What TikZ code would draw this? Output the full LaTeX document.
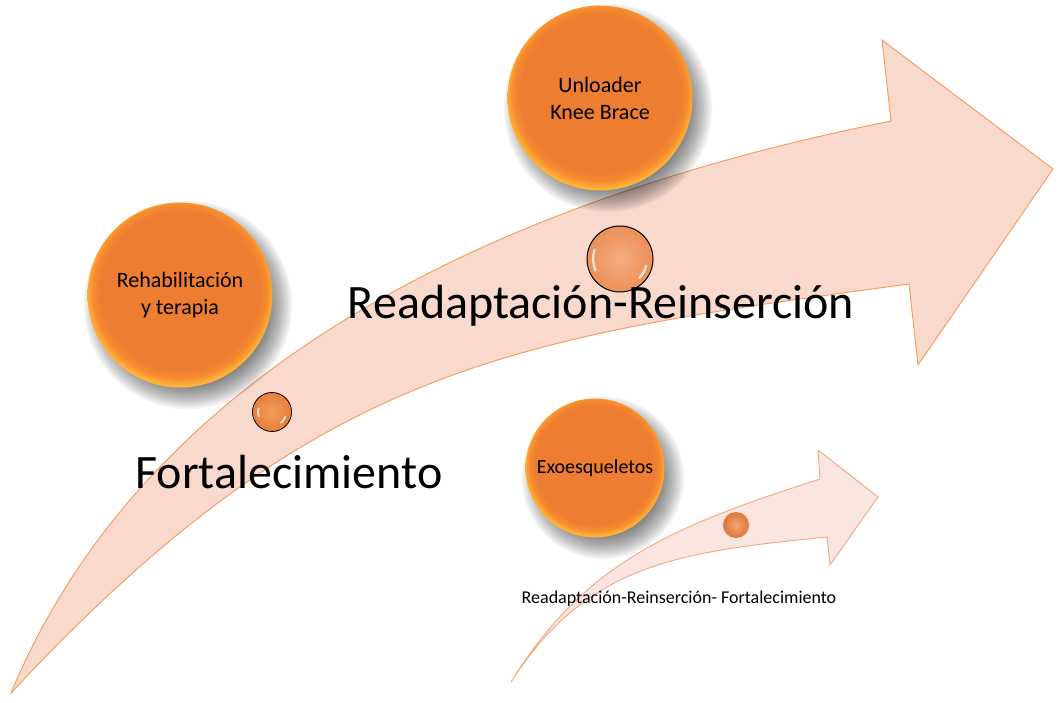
\documentclass[tikz,border=0pt]{standalone}
\usepackage{fontspec}
\setmainfont{Carlito}
\definecolor{arrfill}{HTML}{F8D9CC}
\definecolor{arrline}{HTML}{F19A5E}
\definecolor{sarrfill}{HTML}{FAE5E1}
\definecolor{sarrline}{HTML}{F0A880}
\definecolor{orgmain}{HTML}{ED7D31}
\definecolor{orgrim}{HTML}{F68B2E}
\definecolor{orgedge}{HTML}{FFB43A}
\definecolor{orbA}{HTML}{F29B5E}
\definecolor{orbAo}{HTML}{E97F3A}
\definecolor{orbB}{HTML}{F4AD82}
\definecolor{orbBo}{HTML}{EC9058}
\definecolor{orbC}{HTML}{F5A474}
\definecolor{orbCo}{HTML}{DD7638}
\pgfdeclareradialshading{orb}{\pgfpoint{0bp}{2bp}}{color(0bp)=(orgmain); color(21.5bp)=(orgmain); color(23.5bp)=(orgrim); color(25.5bp)=(orgedge); color(50bp)=(orgedge)}
\tikzset{
  bigorb/.style={circle, inner sep=0pt, shade, shading=orb, align=center,
    font=\fontsize{22}{27}\selectfont},
  hilite/.style={white, opacity=0.75, line width=1.8pt, line cap=round},
  bigtext/.style={font=\fontsize{48}{56}\selectfont, inner sep=0pt, anchor=base},
  softshadow/.style={black, opacity=0.052},
}
\newcommand{\orbshadow}[2]{% center coordinate, radius
  \foreach \k in {0,...,12}{
    \fill[softshadow] (#1) ++(8,10) circle[radius={#2+12-2*\k}];
  }}
\begin{document}
\begin{tikzpicture}[x=1pt,y=-1pt]
\useasboundingbox (0,0) rectangle (1063,703);
% big arrow
\coordinate (bt) at (11,693);
\coordinate (bu) at (891,121);
\coordinate (bl) at (909,284);
\filldraw[fill=arrfill, draw=arrline, line width=0.9pt, line join=miter]
  (bt) .. controls (133,399) and (441,211) .. (bu)
  -- (882,40) -- (1053,169) -- (918,365) -- (bl)
  .. controls (509,338) and (317,365) .. (bt) -- cycle;
% small arrow
\coordinate (st) at (511,682);
\coordinate (su) at (820,479);
\coordinate (sl) at (827,537);
\filldraw[fill=sarrfill, draw=sarrline, line width=0.9pt]
  (st) .. controls (585,563) and (670,527) .. (su)
  -- (818,450) -- (878,497) -- (830,565) -- (sl)
  .. controls (677,552) and (587,564) .. (st) -- cycle;
% big orbs with shadows
\coordinate (c1) at (180,295);
\coordinate (c2) at (600,98);
\coordinate (c3) at (595,468);
\orbshadow{c1}{92}
\orbshadow{c2}{92}
\orbshadow{c3}{69}
\node[bigorb, minimum size=185pt] (rehab) at (c1) {Rehabilitación\\y terapia};
\node[bigorb, minimum size=185pt] (unload) at (c2) {Unloader\\Knee Brace};
\node[bigorb, minimum size=139pt, font=\fontsize{20}{24}\selectfont] (exo) at (c3) {Exoesqueletos};
% small orbs
\node[circle, minimum size=39pt, inner sep=0pt, shade, inner color=orbA, outer color=orbAo, draw=black, line width=0.8pt] (o1) at (272,412) {};
\draw[hilite] (o1.center) ++(160:14) arc[start angle=160, end angle=195, radius=14];
\draw[hilite] (o1.center) ++(20:14) arc[start angle=20, end angle=50, radius=14];
\node[circle, minimum size=66pt, inner sep=0pt, shade, inner color=orbB, outer color=orbBo, draw=black, line width=1pt] (o2) at (620,259) {};
\draw[hilite, line width=2.2pt] (o2.center) ++(155:27) arc[start angle=155, end angle=200, radius=27];
\draw[hilite, line width=2.2pt] (o2.center) ++(15:27) arc[start angle=15, end angle=45, radius=27];
\node[circle, minimum size=26pt, inner sep=0pt, shade, inner color=orbC, outer color=orbCo] (o3) at (736,525) {};
% texts
\node[bigtext] (t1) at (601,319) {Readaptación-Reinserción};
\node[bigtext] (t2) at (289,488) {Fortalecimiento};
\node[font=\fontsize{18}{22}\selectfont, inner sep=0pt, anchor=base] (t3) at (679,603) {Readaptación-Reinserción- Fortalecimiento};
\end{tikzpicture}
\end{document}
